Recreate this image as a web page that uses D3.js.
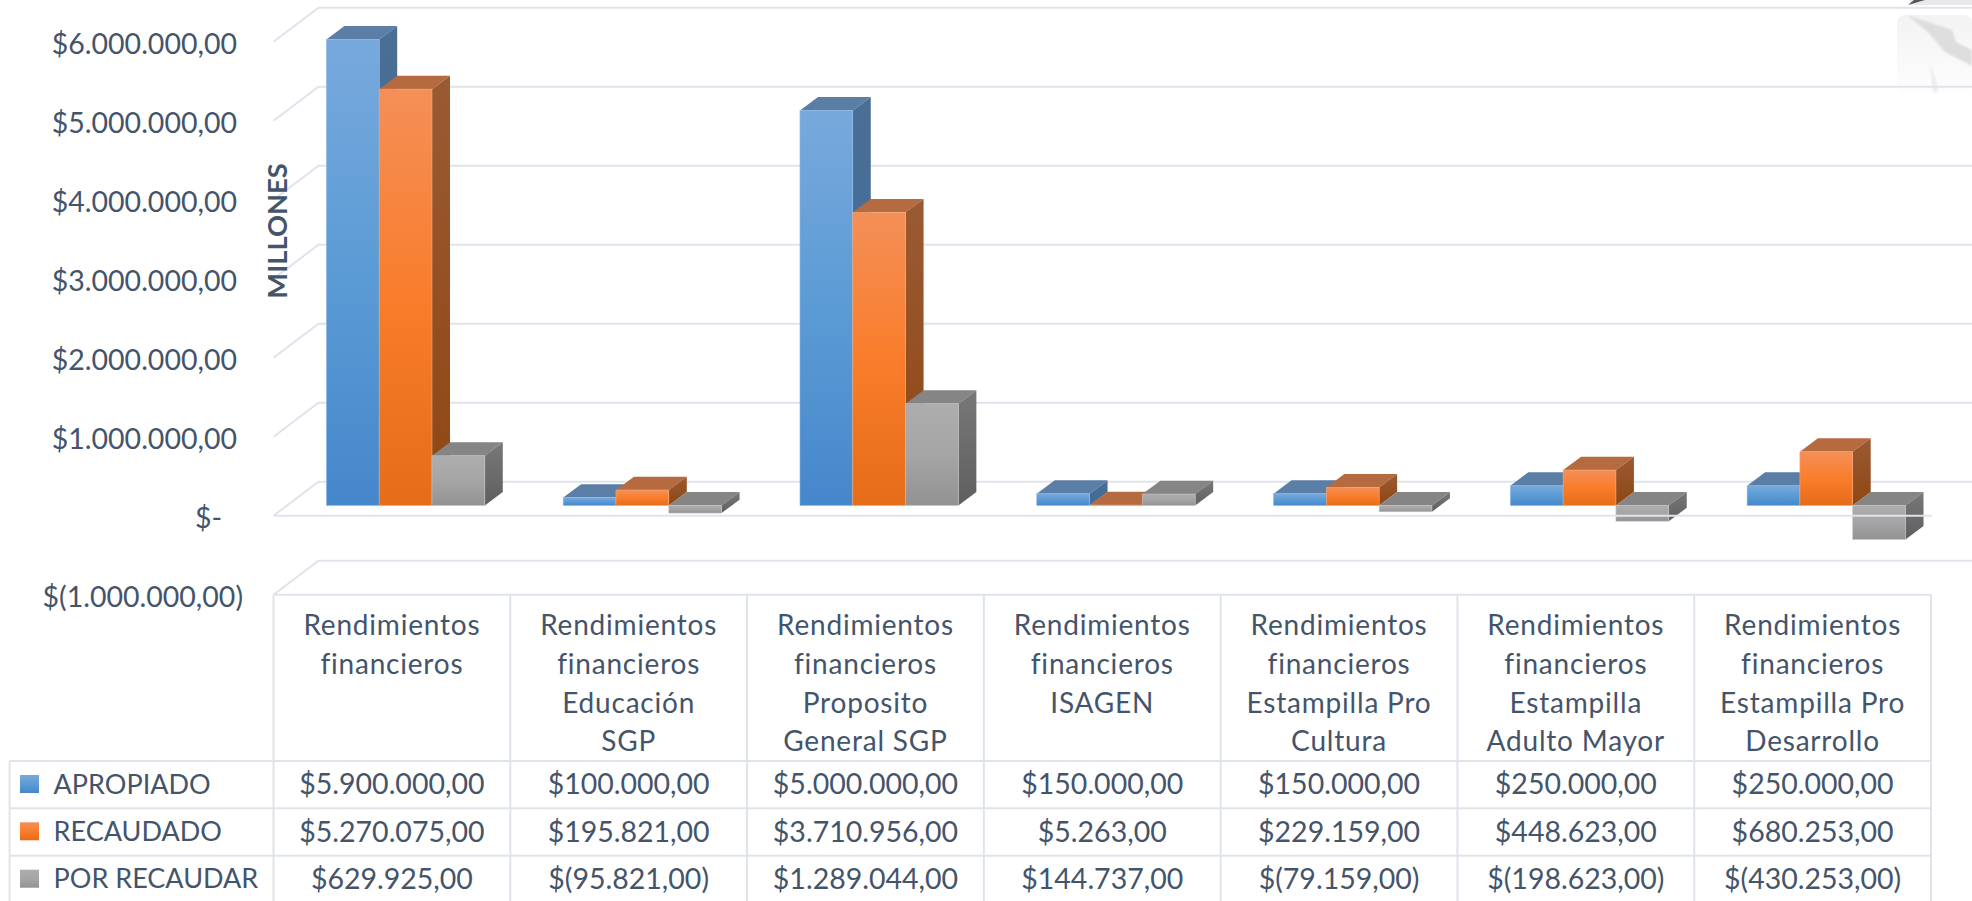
<!DOCTYPE html>
<html>
<head>
<meta charset="utf-8">
<script src="https://d3js.org/d3.v7.min.js"></script>
<style>
  html, body { margin: 0; padding: 0; background: #fff; overflow: hidden; }
  text { font-family: Lato, "Open Sans", sans-serif; fill: #44546a; }
</style>
</head>
<body>
<div id="chart"></div>
<script>
// values
const categories = [
  ["Rendimientos", "financieros"],
  ["Rendimientos", "financieros", "Educación", "SGP"],
  ["Rendimientos", "financieros", "Proposito", "General SGP"],
  ["Rendimientos", "financieros", "ISAGEN"],
  ["Rendimientos", "financieros", "Estampilla Pro", "Cultura"],
  ["Rendimientos", "financieros", "Estampilla", "Adulto Mayor"],
  ["Rendimientos", "financieros", "Estampilla Pro", "Desarrollo"]
];
const seriesNames = ["APROPIADO", "RECAUDADO", "POR RECAUDAR"];
const apropiado = [5900000, 100000, 5000000, 150000, 150000, 250000, 250000];
const recaudado = [5270075, 195821, 3710956, 5263, 229159, 448623, 680253];
const porRecaudar = [629925, -95821, 1289044, 144737, -79159, -198623, -430253];
const yTicks = [6000000, 5000000, 4000000, 3000000, 2000000, 1000000, 0, -1000000];
const yTickLabels = ["$6.000.000,00", "$5.000.000,00", "$4.000.000,00", "$3.000.000,00", "$2.000.000,00", "$1.000.000,00", "$-", "$(1.000.000,00)"];

const seriesValues = [apropiado, recaudado, porRecaudar];

const width = 1972, height = 901;
const numberSize = 28.5;
const headerSize = 28;
const legendSize = 27;
const gridColor = "#dfe3ec";

// layout of the fake 3d box
const wallDx = 45, wallDy = -34;   // floor depth
const barDx = 18, barDy = -13.4;   // bar depth
const barShiftY = -10.2;           // bars stand a bit behind the front edge
const barWidth = 52.8;
const barsLeft = 52.9;             // first bar from the column's left edge

const x = d3.scaleBand().domain(d3.range(categories.length)).range([273.5, 1931]);
const y = d3.scaleLinear().domain([-1000000, 6000000]).range([594.7, 41.7]);

const rowTops = [761, 808.3, 855.7, 903];
const tableLeft = 9.6;

const svg = d3.select("#chart").append("svg")
  .attr("width", width)
  .attr("height", height)
  .style("display", "block");

const defs = svg.append("defs");
const ramps = [
  { front: ["#78a9dd", "#5b9bd5", "#4587cb"], top: "#5a7ea6", side: ["#4a6f96", "#3f6a97"], edge: "#8fb9e4" },
  { front: ["#f48f58", "#f97d2b", "#e56c18"], top: "#b66a40", side: ["#9a5a33", "#8f4713"], edge: "#f7a77c" },
  { front: ["#adadad", "#a5a5a5", "#929292"], top: "#858585", side: ["#787878", "#5f5f5f"], edge: "#c4c4c4" }
];
ramps.forEach(function(r, i) {
  const f = defs.append("linearGradient").attr("id", "front" + i)
    .attr("x1", 0).attr("x2", 0).attr("y1", 0).attr("y2", 1);
  r.front.forEach(function(c, k) {
    f.append("stop").attr("offset", k / 2).attr("stop-color", c);
  });
  const s = defs.append("linearGradient").attr("id", "side" + i)
    .attr("x1", 0).attr("x2", 0).attr("y1", 0).attr("y2", 1);
  r.side.forEach(function(c, k) {
    s.append("stop").attr("offset", k).attr("stop-color", c);
  });
});
defs.append("filter").attr("id", "soft").append("feGaussianBlur").attr("stdDeviation", 1.2);
const fade = defs.append("linearGradient").attr("id", "fade")
  .attr("x1", 0).attr("x2", 0).attr("y1", 0).attr("y2", 1);
fade.append("stop").attr("offset", 0).attr("stop-color", "#f3f3f3");
fade.append("stop").attr("offset", 1).attr("stop-color", "#fdfdfd");

// faint logo bleeding in at the top right corner
const logo = svg.append("g");
logo.append("rect").attr("x", 1897).attr("y", 15).attr("width", 75).attr("height", 78).attr("rx", 8).attr("fill", "url(#fade)");
logo.append("path").attr("d", "M1907,15 L1952,30 L1956,42 L1972,50 L1972,66 L1945,52 L1928,32 Z").attr("fill", "#dddddd").attr("filter", "url(#soft)");
logo.append("path").attr("d", "M1930,63 L1936,80 L1938,92 L1933,92 Z").attr("fill", "#ececec").attr("filter", "url(#soft)");
logo.append("rect").attr("x", 1910).attr("y", 0).attr("width", 62).attr("height", 5).attr("fill", "#e9e9e9");
logo.append("path").attr("d", "M1908,5 L1914,0 L1925,0 Z").attr("fill", "#555555");

// back wall and floor lines
const grid = svg.append("g").attr("fill", "none").attr("stroke", gridColor).attr("stroke-width", 2);
yTicks.forEach(function(t) {
  grid.append("path").attr("d", d3.line()([
    [x.range()[0], y(t)],
    [x.range()[0] + wallDx, y(t) + wallDy],
    [width, y(t) + wallDy]
  ]));
});

// y axis labels, accounting format pushes them around a bit
const yAxis = d3.axisLeft(y)
  .tickValues(yTicks)
  .tickSize(0)
  .tickFormat(function(d, i) { return yTickLabels[i]; });
const yG = svg.append("g").attr("transform", "translate(237,2)").call(yAxis);
yG.select(".domain").remove();
yG.selectAll("text")
  .style("font-size", numberSize + "px")
  .attr("fill", null)
  .attr("dy", "0.34em")
  .attr("x", function(d) { return d === 0 ? -15 : (d < 0 ? 6 : 0); });

svg.append("text")
  .attr("transform", "translate(287,231) rotate(-90)")
  .attr("text-anchor", "middle")
  .style("font-size", "27.3px")
  .style("font-weight", 700)
  .text("MILLONES");

// bars, left to right so the later ones cover the sides of earlier ones
const bars = svg.append("g");
categories.forEach(function(c, ci) {
  seriesValues.forEach(function(vals, si) {
    const v = vals[ci];
    const bx = x(ci) + barsLeft + si * barWidth;
    const y0 = y(Math.max(v, 0)) + barShiftY;
    const y1 = y(Math.min(v, 0)) + barShiftY;
    const g = bars.append("g");
    // top
    g.append("path")
      .attr("d", d3.line()([[bx, y0], [bx + barDx, y0 + barDy], [bx + barWidth + barDx, y0 + barDy], [bx + barWidth, y0]]) + "Z")
      .attr("fill", ramps[si].top);
    // side
    g.append("path")
      .attr("d", d3.line()([[bx + barWidth, y0], [bx + barWidth + barDx, y0 + barDy], [bx + barWidth + barDx, y1 + barDy], [bx + barWidth, y1]]) + "Z")
      .attr("fill", "url(#side" + si + ")");
    // front
    g.append("rect")
      .attr("x", bx)
      .attr("y", y0)
      .attr("width", barWidth)
      .attr("height", Math.max(y1 - y0, 0.5))
      .attr("fill", "url(#front" + si + ")")
      .attr("stroke", ramps[si].edge)
      .attr("stroke-width", 0.6);
  });
});

// floor front edge goes over the bars that hang below zero
svg.append("line")
  .attr("x1", x.range()[0]).attr("x2", x.range()[1] + 1)
  .attr("y1", y(0)).attr("y2", y(0))
  .attr("stroke", gridColor)
  .attr("stroke-width", 2);

// data table
const table = svg.append("g").attr("stroke", gridColor).attr("stroke-width", 2);
table.append("line")
  .attr("x1", x.range()[0]).attr("x2", x.range()[1])
  .attr("y1", y(-1000000)).attr("y2", y(-1000000));
rowTops.forEach(function(r) {
  table.append("line").attr("x1", tableLeft).attr("x2", x.range()[1]).attr("y1", r).attr("y2", r);
});
table.append("line").attr("x1", tableLeft).attr("x2", tableLeft).attr("y1", rowTops[0]).attr("y2", height);
d3.range(categories.length + 1).forEach(function(i) {
  const lx = x.range()[0] + i * x.bandwidth();
  table.append("line").attr("x1", lx).attr("x2", lx).attr("y1", y(-1000000)).attr("y2", height);
});

// category headers
categories.forEach(function(lines, ci) {
  lines.forEach(function(l, k) {
    svg.append("text")
      .attr("x", x(ci) + x.bandwidth() / 2)
      .attr("y", 625 + k * 38.8)
      .attr("dy", "0.36em")
      .attr("text-anchor", "middle")
      .style("font-size", headerSize + "px")
      .style("letter-spacing", "0.8px")
      .text(l);
  });
});

// table values use the es locale, negatives in brackets
const money = d3.formatLocale({ decimal: ",", thousands: ".", grouping: [3], currency: ["$", ""] }).format(",.2f");
function cellText(v) {
  return v < 0 ? "$(" + money(-v) + ")" : "$" + money(v);
}

seriesNames.forEach(function(name, si) {
  const cy = rowTops[si] + 23;
  svg.append("rect")
    .attr("x", 20).attr("y", cy - 9)
    .attr("width", 19).attr("height", 18)
    .attr("fill", "url(#front" + si + ")");
  svg.append("text")
    .attr("x", 53.6).attr("y", cy)
    .attr("dy", "0.36em")
    .style("font-size", legendSize + "px")
    .text(name);
  seriesValues[si].forEach(function(v, ci) {
    svg.append("text")
      .attr("x", x(ci) + x.bandwidth() / 2)
      .attr("y", cy)
      .attr("dy", "0.36em")
      .attr("text-anchor", "middle")
      .style("font-size", numberSize + "px")
      .text(cellText(v));
  });
});
</script>
</body>
</html>
